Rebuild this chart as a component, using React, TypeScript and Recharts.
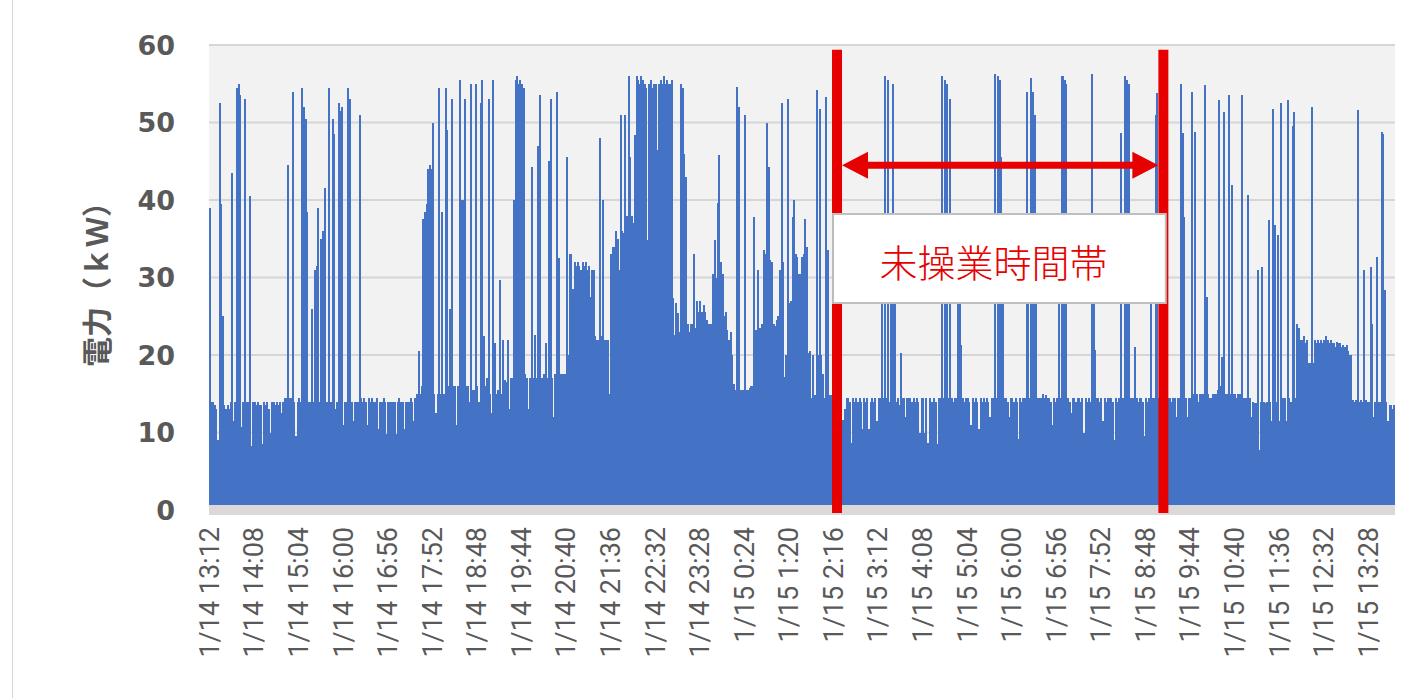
import { BarChart, Bar, XAxis, YAxis, CartesianGrid, ReferenceLine, ReferenceArea } from 'recharts';

// 2-minute samples, one block per 56-minute tick label
const SAMPLES_PER_TICK = 28;

const tickLabels = [
  '1/14 13:12', '1/14 14:08', '1/14 15:04', '1/14 16:00', '1/14 16:56', '1/14 17:52',
  '1/14 18:48', '1/14 19:44', '1/14 20:40', '1/14 21:36', '1/14 22:32', '1/14 23:28',
  '1/15 0:24', '1/15 1:20', '1/15 2:16', '1/15 3:12', '1/15 4:08', '1/15 5:04',
  '1/15 6:00', '1/15 6:56', '1/15 7:52', '1/15 8:48', '1/15 9:44', '1/15 10:40',
  '1/15 11:36', '1/15 12:32', '1/15 13:28',
];

const h1312 = [39, 14, 14, 13.5, 13, 9, 52.5, 39.5, 25, 13.5, 13, 13.5, 13, 14, 43.5, 11.5, 14, 54.5, 55, 53.5, 10.7, 14, 53, 14, 14, 40.5, 8.2, 14];
const h1408 = [14, 13.5, 14, 13.5, 13.5, 8.5, 14, 13.5, 14, 13, 10, 14, 14, 13.5, 14, 13.5, 14, 12.5, 14, 14.5, 14.5, 44.5, 14.5, 14.5, 54, 14, 9.5, 14];
const h1504 = [14.5, 14, 54.5, 52, 50.5, 38.5, 14, 14, 26, 14, 31, 31.5, 39, 14, 35, 36, 41.5, 14, 14, 54.5, 14, 50.5, 48.5, 13, 14, 52.5, 51.5, 52];
const h1600 = [11, 14, 14, 54.5, 53, 14, 11.5, 14, 14, 14, 51, 14.5, 14, 14.5, 14, 11, 14.5, 14, 14.5, 14, 14, 14.5, 10.5, 14, 14, 14.5, 14, 9.8];
const h1656 = [14, 14, 14, 14, 14, 9.8, 14, 14.5, 14, 14, 10.5, 14, 14, 14, 14.5, 14, 11.5, 14.5, 15, 20.5, 15, 16, 37.5, 38.5, 39.5, 44, 44.5, 44];
const h1752 = [50, 15, 12.5, 15, 54.5, 15, 38.5, 15, 54.5, 49, 16, 26, 53, 16, 16, 11, 16, 55.5, 40, 40, 53, 16, 16, 14, 55, 15.5, 15.5, 55];
const h1848 = [16, 14, 52.5, 55.5, 22.5, 16, 17, 53, 15, 12.5, 55.5, 21.5, 15, 15.5, 29.7, 15, 22, 16.8, 16.5, 22, 13, 17, 17, 40, 55.5, 56, 55, 55.5];
const h1944 = [55, 54.5, 17.5, 17, 13, 17, 44.3, 17, 22.6, 17, 47, 53.5, 17, 17, 17.5, 21.5, 17, 45, 53, 17, 12, 17.5, 54, 32.5, 17.5, 17.5, 17.5, 17.5];
const h2040 = [45.5, 20, 33, 33, 28.5, 32, 31.5, 32, 31.5, 31, 32, 31.5, 32, 31, 31.5, 27.5, 31, 31, 22.5, 22, 22, 48, 22.5, 40, 22, 22, 22, 15];
const h2136 = [33, 34, 34, 36, 35, 31, 51, 36, 35.7, 51, 38, 56, 45.6, 38, 37, 48.4, 56, 55.5, 55, 56, 55.5, 55, 54.5, 34.8, 55, 55.5, 54.5, 55];
const h2232 = [55, 46.5, 55, 55.5, 55, 56, 55, 55.5, 55, 55, 55.5, 27.3, 22.6, 26.7, 25.4, 23, 55, 54.5, 46, 43, 24, 23, 24, 24, 33, 23.5, 27, 25.5];
const h2328 = [27, 25.5, 26.5, 25.5, 24.5, 24, 24, 24, 30.5, 34.8, 30, 39.6, 45.8, 32, 30.5, 25, 25.5, 23.2, 22, 23, 20, 16.3, 15.5, 54.6, 52, 15.5, 15.5, 15.5];
const h0024 = [51, 15.5, 15.5, 15.7, 16, 16, 37.8, 23.2, 31, 23.5, 23.5, 24, 33.5, 33, 50, 44.3, 32.2, 32, 24, 23.7, 24.5, 25, 31, 52.5, 32, 17.2, 20, 53];
const h0120 = [26.7, 27, 37.8, 40, 33, 32.7, 30.5, 30.5, 32.7, 33, 37.6, 34, 20.2, 20.5, 14.5, 20, 14.8, 54.2, 20, 51.8, 20, 17.6, 14.5, 53.3, 33.5, 14.8, 14.8, 14.5];
const h0216 = [14.5, 14, 14, 14, 14, 11.6, 11.6, 13, 14.4, 14.4, 14, 8.6, 14.4, 14, 14.4, 14, 14.5, 14, 10.5, 14.4, 14, 14.4, 10.5, 14, 14.4, 14, 14.5, 11.5];
const h0312 = [14.4, 14.5, 30, 14.5, 56, 14.5, 55.5, 14, 30, 55, 30, 14, 14.4, 13.5, 20.2, 14.4, 14.4, 12, 14.4, 14.4, 14.5, 14, 14.4, 14, 14.5, 14, 10, 14.4];
const h0408 = [14.4, 10, 14.4, 8.6, 14.4, 14, 14, 14.4, 14, 8.5, 14.4, 14.5, 56, 14.5, 55.5, 55, 14.5, 53, 14.5, 14, 14.5, 14.4, 32, 30, 21.3, 14.4, 14, 14.4];
const h0504 = [14.5, 14, 11, 14.4, 14, 14.4, 14, 10.5, 14.4, 14, 14.4, 14, 14.4, 14, 12, 14.4, 14.5, 56.3, 14.5, 56, 55.5, 45.6, 30, 14.5, 14.4, 14, 12, 14.4];
const h0600 = [14.5, 14, 14.4, 14, 9.2, 14.4, 14, 14.4, 14.5, 54, 30, 14.5, 55.7, 54, 51, 30, 14.5, 14.4, 14.5, 15, 14.5, 14.8, 14.4, 14.4, 14, 11, 14.4, 14];
const h0656 = [14.4, 30, 14.4, 56, 56, 55.5, 55, 14.5, 14, 12.5, 14.4, 14.5, 14, 14.4, 14.4, 14, 14.4, 10, 14.4, 14, 14.4, 14, 56.3, 30, 20.6, 14.5, 14.4, 14];
const h0752 = [14.4, 11.5, 14.4, 14, 14.5, 14.4, 14.4, 14, 9, 14.4, 14, 14.4, 48.6, 14.5, 14.4, 56, 55.5, 55, 14.5, 14.4, 14.4, 21, 14.4, 14, 14.4, 14.5, 14, 9.5];
const h0848 = [14.4, 14, 14.4, 30, 14.4, 14.5, 51, 53.8, 14.4, 14.5, 14.4, 14.4, 14.5, 14.4, 14.5, 14.4, 14, 14.4, 14.5, 12, 14.4, 14.5, 55, 48.6, 37.8, 14.5, 12, 14.4];
const h0944 = [14.5, 54, 15, 48.8, 15, 14, 15, 15, 15, 54.8, 27.5, 15, 14.5, 14.5, 15, 15, 15, 15.5, 52.9, 16, 19.8, 51.4, 15, 15, 53.5, 15, 42, 15];
const h1040 = [15, 14.5, 15, 15, 53.5, 14.5, 14.5, 14.5, 40.6, 14.5, 12, 14, 13.8, 13.8, 31, 7.7, 14, 31.4, 14, 13.8, 14, 37.4, 14, 11.5, 51.8, 36.8, 14, 35.5];
const h1136 = [11.5, 52.5, 14.5, 14.5, 11.5, 52.9, 14.5, 14, 49.5, 51.4, 14.5, 24, 23.5, 22, 22, 22.5, 21.5, 22, 19, 19, 52, 19, 22, 21.5, 22, 21.5, 22, 21.5];
const h1232 = [22, 22.5, 22, 21.5, 22, 21.5, 21.5, 21, 21.7, 21.5, 21.5, 21, 21.3, 21, 21.3, 20.5, 20, 20, 14.2, 14, 14.2, 51.6, 14, 14.2, 14, 31, 14.2, 14];
const h1328 = [14, 31.4, 24, 12, 14, 32.7, 14, 14, 48.8, 48.5, 28.4, 14, 11.5, 13.5, 13.5, 13, 13.5];

const blocks = [
  h1312, h1408, h1504, h1600, h1656, h1752, h1848, h1944, h2040, h2136, h2232, h2328,
  h0024, h0120, h0216, h0312, h0408, h0504, h0600, h0656, h0752, h0848, h0944, h1040,
  h1136, h1232, h1328,
];

const data = blocks.flat().map((kw, i) => ({ i, kw }));

// non-operating window (sample indexes)
const idleStart = 394;
const idleEnd = 599;

const RED = '#e60000';
const GREY_TEXT = '#595959';

function CrispBar(props: any) {
  const { x, y, width, height, fill } = props;
  return <rect x={x} y={y} width={width} height={height} fill={fill} shapeRendering="crispEdges" />;
}

function TimeTick(props: any) {
  const { x, y, payload } = props;
  const label = tickLabels[Math.round(payload.value / SAMPLES_PER_TICK)];
  return (
    <text
      transform={`translate(${x},${y + 17}) rotate(-90)`}
      textAnchor="end"
      dominantBaseline="central"
      fontSize={27}
      fontFamily="Roboto"
      fill={GREY_TEXT}
    >
      {label}
    </text>
  );
}

function YTitle() {
  return (
    <text
      transform="translate(95,277) rotate(-90)"
      textAnchor="middle"
      dominantBaseline="central"
      fontSize={30}
      fontWeight="bold"
      fontFamily="'Noto Sans CJK JP'"
      fill={GREY_TEXT}
    >
      電力（ｋＷ）
    </text>
  );
}

// double headed arrow between the two red lines
function Arrow(props: any) {
  const { x1, y1, x2 } = props;
  const l = x1 + 5;
  const r = x2 - 5;
  const head = 26;
  const hh = 13.5;
  const sh = 3.5;
  const d = `M${l},${y1} L${l + head},${y1 - hh} L${l + head},${y1 - sh} L${r - head},${y1 - sh} L${r - head},${y1 - hh} L${r},${y1} L${r - head},${y1 + hh} L${r - head},${y1 + sh} L${l + head},${y1 + sh} L${l + head},${y1 + hh} Z`;
  return <path d={d} fill={RED} />;
}

function BoxLabel(props: any) {
  const { viewBox } = props;
  return (
    <text
      x={viewBox.x + viewBox.width / 2 - 6}
      y={viewBox.y + viewBox.height / 2 + 2}
      textAnchor="middle"
      dominantBaseline="central"
      fontSize={38}
      fontWeight={300}
      fontFamily="'Noto Sans CJK JP'"
      fill={RED}
    >
      未操業時間帯
    </text>
  );
}

export default function App() {
  return (
    <div style={{ position: 'absolute', left: 0, top: 0, width: 1416, height: 698, background: '#fff' }}>
      <div style={{ position: 'absolute', left: 12, top: 0, width: 1, height: 698, background: '#d6d6d6' }} />
      <BarChart
        width={1416}
        height={698}
        data={data}
        margin={{ top: 45, right: 21, left: 149, bottom: 18 }}
        barCategoryGap={0}
        barGap={0}
      >
        <CartesianGrid vertical={false} stroke="#d6d6d6" strokeWidth={2} fill="#f2f2f2" />
        <XAxis
          dataKey="i"
          interval={SAMPLES_PER_TICK - 1}
          tick={<TimeTick />}
          tickLine={false}
          tickSize={0}
          tickMargin={0}
          axisLine={{ stroke: '#dcd8d8', strokeWidth: 10 }}
          height={170}
        />
        <YAxis
          domain={[0, 60]}
          ticks={[0, 10, 20, 30, 40, 50, 60]}
          tickLine={false}
          axisLine={false}
          tickSize={0}
          tickMargin={34}
          width={60}
          tick={{ fontSize: 27, fontWeight: 'bold', fontFamily: 'DejaVu Sans', fill: GREY_TEXT }}
          label={<YTitle />}
        />
        <Bar dataKey="kw" fill="#4472C4" shape={<CrispBar />} isAnimationActive={false} />
        <ReferenceLine
          segment={[{ x: idleStart, y: 59.4 }, { x: idleStart, y: -0.4 }]}
          stroke={RED}
          strokeWidth={10}
          ifOverflow="visible"
          zIndex={1600}
        />
        <ReferenceLine
          segment={[{ x: idleEnd, y: 59.4 }, { x: idleEnd, y: -0.4 }]}
          stroke={RED}
          strokeWidth={10}
          ifOverflow="visible"
          zIndex={1600}
        />
        <ReferenceLine
          segment={[{ x: idleStart, y: 44.5 }, { x: idleEnd, y: 44.5 }]}
          shape={<Arrow />}
          ifOverflow="visible"
          zIndex={1600}
        />
        <ReferenceArea
          x1={idleStart - 2}
          x2={idleEnd + 1}
          y1={26.7}
          y2={38.2}
          fill="#ffffff"
          fillOpacity={1}
          stroke="#bfbfbf"
          strokeWidth={2}
          ifOverflow="visible"
          zIndex={1700}
          label={<BoxLabel />}
        />
      </BarChart>
    </div>
  );
}
